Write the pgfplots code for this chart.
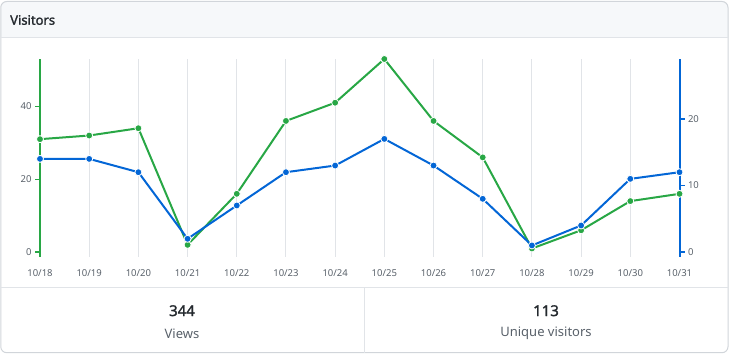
\documentclass[border=0pt]{standalone}
\usepackage{pgfplots}
\pgfplotsset{compat=1.18}
\usepackage{fontspec}
\setmainfont{Noto Sans}
\newfontfamily\semib{Noto Sans}[FakeBold=1.6]
\definecolor{vgreen}{HTML}{28A745}
\definecolor{vblue}{HTML}{0366D6}
\definecolor{gridc}{HTML}{E1E4E8}
\definecolor{hdr}{HTML}{F6F8FA}
\definecolor{bord}{HTML}{D1D5DA}
\definecolor{txtg}{HTML}{586069}
\definecolor{txtd}{HTML}{24292E}
\pgfplotsset{
  common/.style={
    at={(40pt,100.5pt)}, anchor=south west,
    scale only axis, width=639.5pt, height=197.5pt,
    xmin=0, xmax=13, clip=false,
    major tick length=5pt, tick align=outside,
    /pgf/number format/assume math mode=true,
    tick label style={text=txtg, font=\fontsize{9.5}{11}\selectfont},
  },
  rightax/.style={common, ymin=-0.66, ymax=29},
  leftax/.style={common, ymin=-1.2, ymax=53},
}
\begin{document}
\begin{tikzpicture}[x=1pt,y=1pt]
\useasboundingbox (0,0) rectangle (731,357);
\begin{scope}
\clip[rounded corners=6pt] (0.75,4.3) rectangle (728,355.5);
\fill[hdr] (0,319.3) rectangle (731,357);
\end{scope}
\draw[bord, line width=1pt, rounded corners=6pt] (0.75,4.3) rectangle (728,355.5);
\draw[gridc, line width=1pt] (0.75,319.3) -- (728,319.3);
\draw[gridc, line width=1pt] (0.75,69.7) -- (728,69.7);
\draw[gridc, line width=1pt] (364.3,69.7) -- (364.3,4.3);
\node[anchor=west, text=txtd, font=\fontsize{13}{15}\selectfont\semib, inner sep=0pt] at (10,337) {Visitors};
\node[text=txtd, font=\fontsize{15}{17}\selectfont\semib, inner sep=0pt] at (182,46.3) {344};
\node[text=txtg, font=\fontsize{13}{15}\selectfont, inner sep=0pt] at (182,23.7) {Views};
\node[text=txtd, font=\fontsize{15}{17}\selectfont\semib, inner sep=0pt] at (546,46.3) {113};
\node[text=txtg, font=\fontsize{13}{15}\selectfont, inner sep=0pt] at (546,23.7) {Unique visitors};
% left axis with grid, x labels and views
\begin{axis}[leftax,
  axis x line*=bottom, axis y line*=left,
  x axis line style={draw=none},
  y axis line style={draw=vgreen, line width=2pt, -},
  xtick={0,...,13},
  xticklabels={10/18,10/19,10/20,10/21,10/22,10/23,10/24,10/25,10/26,10/27,10/28,10/29,10/30,10/31},
  xtick style={draw=none},
  xmajorgrids, major grid style={gridc, line width=1pt},
  ytick={0,20,40},
  ytick style={vgreen, line width=1.5pt},
  xticklabel style={yshift=-5pt},
]
\end{axis}
% right axis line and ticks
\begin{axis}[rightax,
  axis x line=none, axis y line*=right,
  y axis line style={draw=vblue, line width=2pt, -},
  ytick={0,10,20},
  ytick style={vblue, line width=1.5pt},
]
\end{axis}
% views series (left scale)
\begin{axis}[leftax, hide axis]
\addplot[vgreen, line width=2pt, mark=*, mark size=3.5pt,
  mark options={fill=vgreen, draw=white, line width=0.8pt}]
  coordinates {(0,31)(1,32)(2,34)(3,2)(4,16)(5,36)(6,41)(7,53)(8,36)(9,26)(10,1)(11,6)(12,14)(13,16)};
\end{axis}
% unique visitors series (right scale)
\begin{axis}[rightax, hide axis]
\addplot[vblue, line width=2pt, mark=*, mark size=3.5pt,
  mark options={fill=vblue, draw=white, line width=0.8pt}]
  coordinates {(0,14)(1,14)(2,12)(3,2)(4,7)(5,12)(6,13)(7,17)(8,13)(9,8)(10,1)(11,4)(12,11)(13,12)};
\end{axis}
\end{tikzpicture}
\end{document}
